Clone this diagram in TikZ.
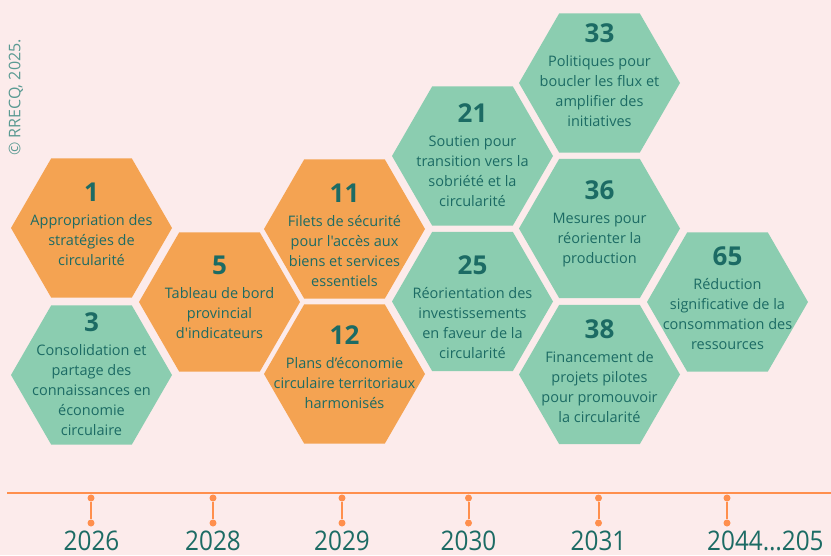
\documentclass[tikz,border=0pt]{standalone}
\usepackage{fontspec}
\setmainfont{Open Sans}[Ligatures=TeXOff]
\newfontfamily\yearfont[FakeStretch=0.9]{Open Sans}
\definecolor{bgpink}{HTML}{FCEBEB}
\definecolor{hexorange}{HTML}{F4A352}
\definecolor{hexgreen}{HTML}{8BCDB0}
\definecolor{tealtext}{HTML}{1C6B64}
\definecolor{lineorange}{HTML}{FF8F4D}
\definecolor{copytext}{HTML}{5A9A93}
\newcommand\hexshape[3]{\fill[#3] (#1,#2) +(0:80.5) -- +(60:80.5) -- +(120:80.5) -- +(180:80.5) -- +(240:80.5) -- +(300:80.5) -- cycle;}
\newcommand\hnum[1]{{\fontsize{26}{20}\selectfont\bfseries #1}\\[4pt]}
\begin{document}
\begin{tikzpicture}[x=1pt,y=-1pt,
  hexlabel/.style={anchor=north, align=center, inner sep=0pt, text=tealtext, font=\fontsize{14.5}{20}\selectfont},
  timeline/.style={draw=lineorange, line width=2.5pt},
  tickline/.style={draw=lineorange, line width=2pt},
  tickdot/.style={circle, fill=lineorange, inner sep=0pt, minimum size=7pt},
  year/.style={text=tealtext, inner sep=0pt, font=\yearfont\fontsize{27}{30}\selectfont}]
\useasboundingbox (0,0) rectangle (831,555);
\fill[bgpink] (0,0) rectangle (831,555);
\clip (0,0) rectangle (831,555);

% copyright
\node[rotate=90, text=copytext, inner sep=0pt, font=\fontsize{16}{18}\selectfont] (copy) at (16,97.5) {© RRECQ, 2025.};

% hexagons
\hexshape{91.5}{228}{hexorange}
\hexshape{91.5}{375}{hexgreen}
\hexshape{219.5}{302}{hexorange}
\hexshape{344.5}{229}{hexorange}
\hexshape{344.5}{374}{hexorange}
\hexshape{472.5}{156}{hexgreen}
\hexshape{472.5}{301.5}{hexgreen}
\hexshape{599.5}{83}{hexgreen}
\hexshape{599.5}{228.5}{hexgreen}
\hexshape{599.5}{374.5}{hexgreen}
\hexshape{727.5}{302}{hexgreen}

% labels
\node[hexlabel] (t1) at (91.5,182.7) {\hnum{1}Appropriation des\\stratégies de\\circularité};
\node[hexlabel] (t3) at (91.5,312.7) {\hnum{3}Consolidation et\\partage des\\connaissances en\\économie\\circulaire};
\node[hexlabel] (t5) at (219.5,255.7) {\hnum{5}Tableau de bord\\provincial\\d'indicateurs};
\node[hexlabel] (t11) at (344.5,183.7) {\hnum{11}Filets de sécurité\\pour l'accès aux\\biens et services\\essentiels};
\node[hexlabel] (t12) at (344.5,325.7) {\hnum{12}Plans d’économie\\circulaire territoriaux\\harmonisés};
\node[hexlabel] (t21) at (472.5,103.7) {\hnum{21}Soutien pour\\transition vers la\\sobriété et la\\circularité};
\node[hexlabel] (t25) at (472.5,255.7) {\hnum{25}Réorientation des\\investissements\\en faveur de la\\circularité};
\node[hexlabel] (t33) at (599.5,23.7) {\hnum{33}Politiques pour\\boucler les flux et\\amplifier des\\initiatives};
\node[hexlabel] (t36) at (599.5,180.7) {\hnum{36}Mesures pour\\réorienter la\\production};
\node[hexlabel] (t38) at (599.5,319.7) {\hnum{38}Financement de\\projets pilotes\\pour promouvoir\\la circularité};
\node[hexlabel] (t65) at (727.5,246.7) {\hnum{65}Réduction\\significative de la\\consommation des\\ressources};

% timeline
\coordinate (tla) at (7,493);
\coordinate (tlb) at (831,493);
\draw[timeline] (tla) -- (tlb);
\foreach \i/\xx in {1/91,2/213,3/342,4/468.5,5/598.5,6/727}{
  \node[tickdot] (da\i) at (\xx,498) {};
  \node[tickdot] (db\i) at (\xx,523) {};
  \draw[tickline] (da\i) -- (db\i);
}
\node[year] (y1) at (91.5,541) {2026};
\node[year] (y2) at (213,541) {2028};
\node[year] (y3) at (342,541) {2029};
\node[year] (y4) at (468.5,541) {2030};
\node[year] (y5) at (598.5,541) {2031};
\node[year, anchor=west] (y6) at (707,541) {2044…205};
\end{tikzpicture}
\end{document}
